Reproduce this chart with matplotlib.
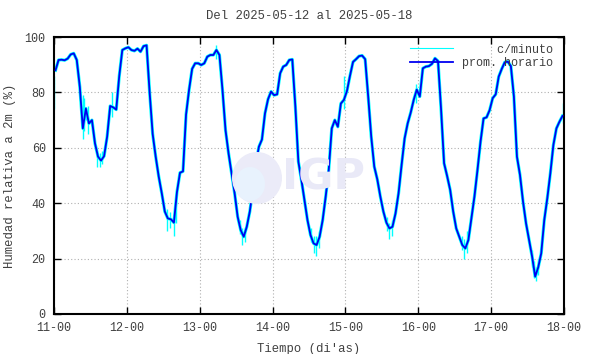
import matplotlib
matplotlib.use("Agg")
import matplotlib.pyplot as plt
from matplotlib.patches import Ellipse
from matplotlib.lines import Line2D
import numpy as np

# promedio horario (%), un valor por hora, centrado en la media hora
dia1 = [88, 91.7, 91.8, 91.6, 92.2, 93.7, 94.1, 91.7, 82, 67, 74.2, 68.8,
        70, 61.6, 56.8, 55.4, 57, 64, 75.1, 74.6, 73.8, 86, 95.3, 95.9]
dia2 = [96.3, 95.3, 95, 95.8, 94.7, 96.7, 97, 80, 65, 56.8, 49.6, 43.6,
        37, 34.5, 34.2, 33, 44, 51, 51.5, 72, 81, 88.5, 90.5, 90.5]
dia3 = [89.9, 90.5, 92.9, 93.5, 93.5, 95.3, 93.5, 80.9, 66.4, 58, 50.8, 43.6,
        35.1, 30.3, 27.9, 31.5, 37, 44.8, 54.4, 60.4, 63, 72.4, 77.5, 80.3]
dia4 = [79, 79.3, 86.9, 89.3, 89.9, 91.7, 91.9, 75, 55, 48.4, 41.2, 33.9,
        28.5, 25.5, 24.9, 27.9, 33.9, 42.4, 52, 67, 70, 67.6, 76, 77.3]
dia5 = [80.5, 86, 91, 92, 93.1, 93.3, 92, 78.5, 64, 53.2, 48.6, 42.4,
        37, 33, 30.9, 31.5, 36.3, 43.6, 53.8, 63.4, 68.8, 72.7, 77.3, 81]
dia6 = [78.5, 88.7, 89.3, 89.5, 90.3, 92.3, 91.3, 74, 54.4, 49.8, 44.8, 37,
        30.9, 27.9, 24.9, 23.7, 26.7, 34.5, 42.4, 52, 62.2, 70.6, 71, 73.6]
dia7 = [77.9, 79.3, 85.7, 88.5, 90.9, 91.1, 89.5, 78.5, 56.8, 50.2, 40.6, 32.7,
        26.7, 20.7, 13.5, 16.8, 21.9, 33.9, 41.8, 50.8, 61, 67, 69.4, 71.5]

# picos de los datos por minuto: (dia, hora, minimo, maximo)
pico_dia = [0, 0, 0, 0, 0, 0, 0, 0, 0, 1, 1, 1, 1, 2, 2, 2, 3, 3, 3, 3,
            4, 4, 4, 5, 5, 5, 6, 6, 6, 6, 6, 2, 3, 4]
pico_hora = [0.1, 9.6, 10.0, 10.4, 11.3, 14.2, 15.0, 15.8, 19.2, 13.2, 14.3, 15.4, 16.2,
             13.4, 14.0, 14.8, 12.8, 13.6, 14.4, 15.2, 13.6, 14.4, 15.2, 14.4, 15.2, 16.0,
             13.6, 14.2, 14.8, 15.4, 23.7, 5.2, 23.6, 23.2]
pico_min = [74, 63, 66, 70, 65, 53, 53, 54, 71, 30, 31, 28, 33,
            29, 25, 26, 26, 22, 21, 24, 30, 27, 28, 23, 20, 22,
            17, 13, 12, 14, 69, 92, 74, 76]
pico_max = [86, 79, 78, 74, 75, 59, 58, 59, 80, 38, 37, 36, 42,
            34, 31, 31, 31, 28, 28, 30, 35, 33, 34, 28, 27, 30,
            23, 19, 17, 20, 76, 97, 86, 83]

etiquetas_x = ["11-00", "12-00", "13-00", "14-00", "15-00", "16-00", "17-00", "18-00"]
valores_y = [0, 20, 40, 60, 80, 100]

prom = np.concatenate([dia1, dia2, dia3, dia4, dia5, dia6, dia7])
t = (np.arange(len(prom)) + 0.5) / 24.0
t_pico = np.array(pico_dia) + np.array(pico_hora) / 24.0

fuente = "Liberation Mono"
gris = "#404040"
cian = "#00ffff"
azul = "#0000f0"

fig = plt.figure(figsize=(5.9, 3.54), dpi=100)
ax = fig.add_axes([54 / 590, 40 / 354, 510 / 590, 277 / 354])

# marca de agua
fig.patches.append(Ellipse((257 / 590, 1 - 178 / 354), 50 / 590, 52 / 354,
                           transform=fig.transFigure, facecolor="#ebebf8",
                           edgecolor="none", zorder=0))
fig.patches.append(Ellipse((250 / 590, 1 - 184 / 354), 30 / 590, 34 / 354,
                           transform=fig.transFigure, facecolor="#e8f2fd",
                           edgecolor="none", zorder=0))
fig.text(323 / 590, 1 - 178 / 354, "IGP", fontsize=31, fontweight="bold",
         color="#e9e9f7", ha="center", va="center", family="DejaVu Sans", zorder=0)
ax.set_facecolor("none")

ax.plot(t, prom, color=cian, lw=2.3, solid_joinstyle="round", zorder=2)
ax.vlines(t_pico, pico_min, pico_max, color=cian, lw=1.0, zorder=2)
ax.plot(t, prom, color=azul, lw=1.3, zorder=3)

ax.set_xlim(0, 7)
ax.set_ylim(0, 100)
ax.set_xticks(range(len(etiquetas_x)))
ax.set_xticklabels(etiquetas_x)
ax.set_yticks(valores_y)
ax.grid(True, color="#b0b0b0", linestyle=(0, (1, 2)), lw=0.8)
ax.tick_params(direction="in", top=True, right=True, length=5, width=1,
               labelsize=8.5, labelcolor=gris, pad=6)
for lab in ax.get_xticklabels() + ax.get_yticklabels():
    lab.set_family(fuente)
for s in ax.spines.values():
    s.set_linewidth(1.5)

ax.set_title("Del 2025-05-12 al 2025-05-18", family=fuente, fontsize=8.8,
             color=gris, pad=13)
ax.set_xlabel("Tiempo (di'as)", family=fuente, fontsize=8.8, color=gris, labelpad=6)
ax.set_ylabel("Humedad relativa a 2m (%)", family=fuente, fontsize=8.8, color=gris, labelpad=6)

handles = [Line2D([], [], color=cian, lw=0.8), Line2D([], [], color=azul, lw=1.3)]
leg = ax.legend(handles, ["     c/minuto", "prom. horario"], loc="upper right",
                bbox_to_anchor=(0.985, 0.987), borderaxespad=0,
                prop={"family": fuente, "size": 8.5}, fancybox=False, framealpha=0,
                edgecolor="black", handlelength=3.6, borderpad=0.25, labelspacing=0.15,
                handletextpad=0.8)
leg.get_frame().set_linewidth(1.0)
for txt in leg.get_texts():
    txt.set_color(gris)

fig.savefig("out.png", dpi=100)
